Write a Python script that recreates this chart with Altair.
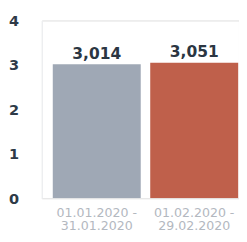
import altair as alt
import pandas as pd

periods = ["01.01.2020 - 31.01.2020", "01.02.2020 - 29.02.2020"]
values = [3.014, 3.051]
colors = ["#9fa8b5", "#bf604b"]
y_ticks = [0, 1, 2, 3, 4]

df = pd.DataFrame({
    "period": periods,
    "value": values,
    "color": colors,
    "idx": list(range(len(periods))),
})

base = alt.Chart(df).transform_calculate(
    txt="replace(format(datum.value, '.3f'), '.', ',')",
    lines="[split(datum.period, ' - ')[0] + ' -', split(datum.period, ' - ')[1]]",
)

x_enc = alt.X(
    "idx:Q",
    scale=alt.Scale(domain=[-0.514, 1.41], nice=False, zero=False),
    axis=None,
)

bars = base.mark_bar(size=91, clip=True).encode(
    x=x_enc,
    y=alt.Y(
        "value:Q",
        scale=alt.Scale(domain=[0, 4], nice=False),
        axis=alt.Axis(
            title=None,
            values=y_ticks,
            grid=False,
            ticks=False,
            domain=True,
            domainColor="#eef0f3",
            labelFont="DejaVu Sans",
            labelFontWeight="bold",
            labelFontSize=15,
            labelColor="#2e3a47",
            labelPadding=24,
        ),
    ),
    color=alt.Color("color:N", scale=None),
)

value_labels = base.mark_text(
    font="DejaVu Sans",
    fontWeight="bold",
    fontSize=16,
    color="#2b3642",
    baseline="bottom",
    dy=-3,
).encode(
    x=x_enc,
    y=alt.Y("value:Q", title=None),
    text="txt:N",
)

period_labels = base.mark_text(
    font="DejaVu Sans",
    fontSize=13,
    color="#b3b8bf",
    baseline="alphabetic",
    align="center",
    dy=19,
    lineHeight=14,
).encode(
    x=x_enc,
    y=alt.datum(0),
    text="lines:N",
)

chart = (
    alt.layer(bars, value_labels, period_labels)
    .properties(
        width=204,
        height=184,
        autosize=alt.AutoSizeParams(type="none"),
        padding={"left": 35, "top": 9, "right": 0, "bottom": 33},
    )
    .configure_view(stroke=None)
    .configure(background="white")
)

chart.save("out.html", embed_options={"renderer": "svg", "actions": False})
